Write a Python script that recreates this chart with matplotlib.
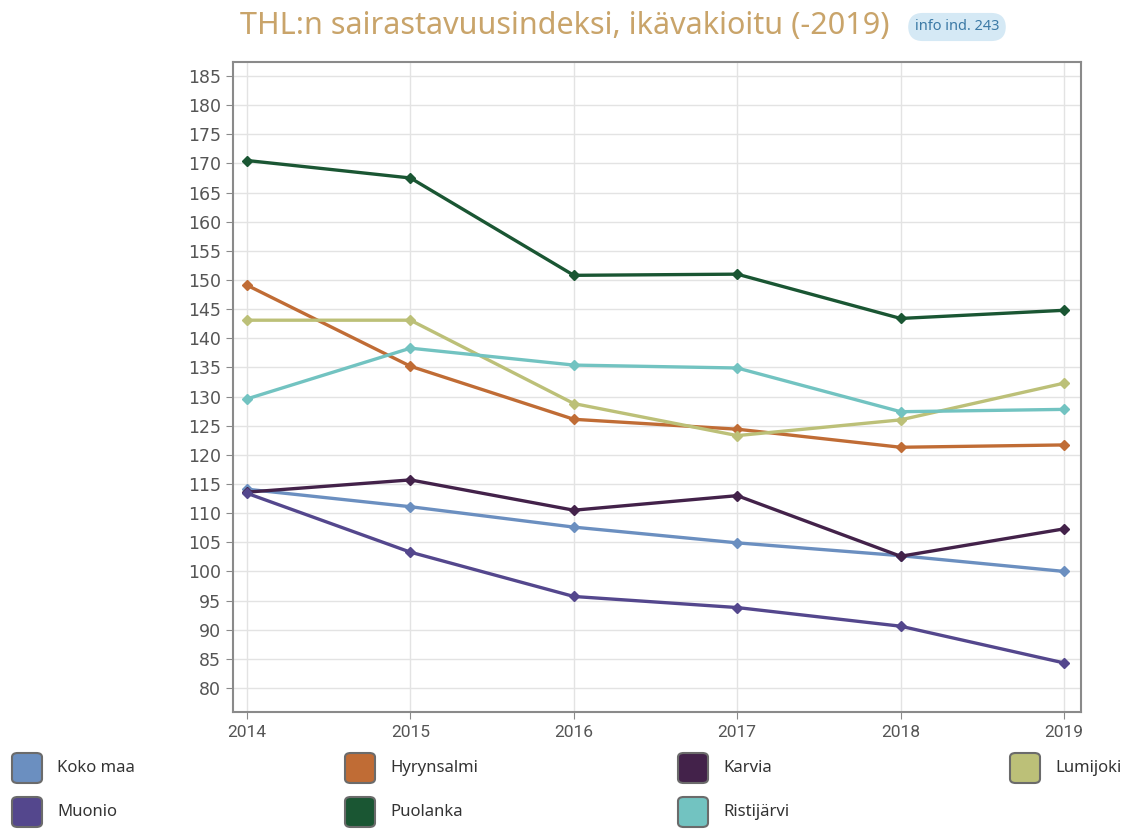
import matplotlib.pyplot as plt
from matplotlib.patches import FancyBboxPatch

years = [2014, 2015, 2016, 2017, 2018, 2019]
names = ["Koko maa", "Hyrynsalmi", "Karvia", "Lumijoki", "Muonio", "Puolanka", "Ristijärvi"]
colors = ["#6b8fc0", "#c06c35", "#43224a", "#bcc078", "#54478d", "#1a5633", "#72c3c1"]

koko_maa = [114.1, 111.1, 107.6, 104.9, 102.7, 100.0]
hyrynsalmi = [149.1, 135.2, 126.1, 124.4, 121.3, 121.7]
karvia = [113.6, 115.7, 110.5, 113.0, 102.6, 107.3]
lumijoki = [143.1, 143.1, 128.8, 123.3, 126.0, 132.3]
muonio = [113.4, 103.3, 95.7, 93.8, 90.6, 84.3]
puolanka = [170.5, 167.5, 150.8, 151.0, 143.4, 144.8]
ristijarvi = [129.6, 138.3, 135.4, 134.9, 127.4, 127.8]
series = [koko_maa, hyrynsalmi, karvia, lumijoki, muonio, puolanka, ristijarvi]

yticks = list(range(80, 186, 5))

fig = plt.figure(figsize=(11.34, 8.3), dpi=100)
ax = fig.add_axes([233 / 1134, 1 - 712 / 830, (1081 - 233) / 1134, (712 - 62) / 830])

for vals, c in zip(series, colors):
    ax.plot(years, vals, color=c, lw=2.4, marker="D", ms=5, zorder=3)

ax.set_xlim(2013.914, 2019.104)
ax.set_ylim(75.88, 187.4)
ax.set_xticks(years)
ax.set_yticks(yticks)
ax.grid(True, color="#e3e3e3", lw=1)
ax.set_axisbelow(True)
for s in ax.spines.values():
    s.set_color("#8a8a8a")
    s.set_linewidth(1.5)
ax.tick_params(colors="#8a8a8a", labelcolor="#555555", length=5)
ax.tick_params(axis="y", labelsize=12.5)
ax.tick_params(axis="x", pad=4)
for lab in ax.get_xticklabels():
    lab.set_family(["Liberation Sans Narrow", "Roboto"])
    lab.set_fontsize(12.5)

fig.text(0.498, 0.969, "THL:n sairastavuusindeksi, ikävakioitu (-2019)",
         ha="center", va="center", fontsize=22, color="#c9a46a", family="Noto Sans")
fig.text(957 / 1134, 1 - 27 / 830, "info ind. 243", ha="center", va="center",
         fontsize=10.5, fontweight="bold", color="#3c7aa6",
         family=["Liberation Sans Narrow", "Noto Sans"],
         bbox=dict(boxstyle="round,pad=0.45,rounding_size=1.0", fc="#d5e9f5", ec="none"))

# legend
col_x = [12, 345, 678, 1010]
row_y = [768, 812]
for i, (n, c) in enumerate(zip(names, colors)):
    x = col_x[i % 4]
    y = row_y[i // 4]
    box = FancyBboxPatch(((x) / 1134, 1 - (y + 15) / 830), 30 / 1134, 30 / 830,
                         boxstyle="round,pad=0,rounding_size=0.005",
                         transform=fig.transFigure, fc=c, ec="#6b6b6b", lw=1.5)
    fig.patches.append(box)
    fig.text((x + 45) / 1134, 1 - y / 830, n, ha="left", va="center",
             fontsize=12, color="#333333", family="Noto Sans")

fig.savefig("out.png", dpi=100)
